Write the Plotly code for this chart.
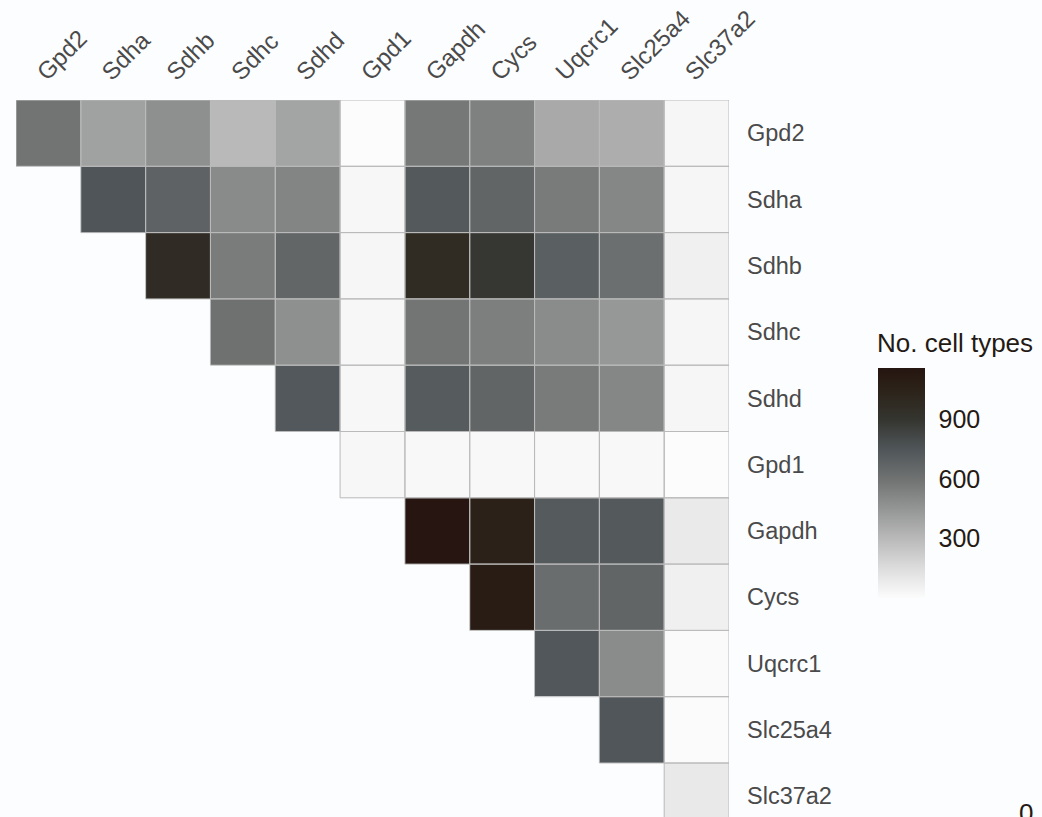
import plotly.graph_objects as go

# Genes, in the order used for both axes
genes = ["Gpd2", "Sdha", "Sdhb", "Sdhc", "Sdhd", "Gpd1",
         "Gapdh", "Cycs", "Uqcrc1", "Slc25a4", "Slc37a2"]

# Number of cell types in which each gene pair is co-detected (upper triangle only)
row_gpd2 = [592, 399, 475, 300, 386, 2, 575, 537, 369, 351, 29]
row_sdha = [750, 683, 496, 521, 24, 729, 667, 562, 512, 29]
row_sdhb = [970, 558, 662, 29, 975, 890, 699, 616, 58]
row_sdhc = [605, 475, 24, 587, 546, 492, 441, 29]
row_sdhd = [735, 24, 719, 667, 562, 512, 29]
row_gpd1 = [24, 19, 19, 19, 19, 0]
row_gapdh = [1160, 1060, 724, 729, 87]
row_cycs = [1100, 626, 667, 58]
row_uqcrc1 = [740, 492, 10]
row_slc25a4 = [745, 5]
row_slc37a2 = [92]

rows = [row_gpd2, row_sdha, row_sdhb, row_sdhc, row_sdhd, row_gpd1,
        row_gapdh, row_cycs, row_uqcrc1, row_slc25a4, row_slc37a2]

colorbar_ticks = [300, 600, 900]

n = len(genes)
z = []
for i, vals in enumerate(rows):
    z.append([None] * i + vals)

zmin, zmax = 0, 1160
colorscale = [
    [0.0, "#fbfcfb"],
    [0.129, "#dcdddc"],
    [0.259, "#b8b9b8"],
    [0.388, "#949595"],
    [0.517, "#707272"],
    [0.647, "#4f5558"],
    [0.776, "#34352f"],
    [0.9, "#2c231a"],
    [1.0, "#261510"],
]

BG = "#fcfdff"
DARK = "#241a14"
AXIS_TXT = "#4a4a4a"
TICK_CLR = "#d6d6d6"
FONT = "Liberation Sans, Arial, sans-serif"

W, H = 1042, 817
ML, MR, MT, MB = 16, 313, 100, 0
plot_w = W - ML - MR
plot_h = H - MT - MB
row_px = 66.3
rows_visible = plot_h / row_px

# colorbar geometry in pixels
cb_left, cb_top, cb_len, cb_thick = 878, 368, 230, 47


def px_x(px):
    return (px - ML) / plot_w


def px_y(px):
    return (H - MB - px) / plot_h


fig = go.Figure()

fig.add_trace(go.Heatmap(
    z=z,
    x=list(range(n)),
    y=list(range(n)),
    zmin=zmin, zmax=zmax,
    colorscale=colorscale,
    hoverongaps=False,
    colorbar=dict(
        x=px_x(cb_left), xanchor="left",
        y=px_y(cb_top), yanchor="top",
        len=cb_len, lenmode="pixels",
        thickness=cb_thick, thicknessmode="pixels",
        xpad=0, ypad=0,
        outlinewidth=0,
        tickvals=colorbar_ticks,
        ticks="outside", ticklen=9, tickwidth=1, tickcolor=BG,
        tickfont=dict(family=FONT, size=25, color=DARK),
    ),
))

# cell outlines for every filled cell
bx, by = [], []
for i in range(n):
    for j in range(n):
        if z[i][j] is None:
            continue
        x0, x1, y0, y1 = j - 0.5, j + 0.5, i - 0.5, i + 0.5
        bx += [x0, x1, x1, x0, x0, None]
        by += [y0, y0, y1, y1, y0, None]
fig.add_trace(go.Scatter(
    x=bx, y=by, mode="lines",
    line=dict(color="#bababa", width=1),
    hoverinfo="skip", showlegend=False,
))

# short tick marks drawn inside both edges of the colorbar
for v in colorbar_ticks:
    ypx = cb_top + cb_len * (1 - (v - zmin) / (zmax - zmin))
    for xa, xb in [(cb_left, cb_left + 10), (cb_left + cb_thick - 10, cb_left + cb_thick)]:
        fig.add_shape(type="line", xref="paper", yref="paper",
                      x0=px_x(xa), x1=px_x(xb), y0=px_y(ypx), y1=px_y(ypx),
                      line=dict(color=TICK_CLR, width=1))

fig.add_annotation(
    text="No. cell types", xref="paper", yref="paper",
    x=px_x(cb_left - 3), xanchor="left",
    y=px_y(343), yanchor="middle",
    showarrow=False, font=dict(family=FONT, size=26, color=DARK),
)
fig.add_annotation(
    text="0", xref="paper", yref="paper",
    x=px_x(1026), xanchor="center",
    y=px_y(796), yanchor="top",
    showarrow=False, font=dict(family=FONT, size=26, color=DARK),
)

fig.update_layout(
    width=W, height=H,
    margin=dict(l=ML, r=MR, t=MT, b=MB, autoexpand=False),
    paper_bgcolor=BG, plot_bgcolor=BG,
    showlegend=False,
    xaxis=dict(
        side="top", range=[-0.5, n - 0.5],
        tickmode="array", tickvals=list(range(n)), ticktext=genes,
        tickangle=-45, ticks="", ticklabelstandoff=9, ticklabelshift=-10,
        tickfont=dict(family=FONT, size=24, color=AXIS_TXT),
        showgrid=False, zeroline=False, showline=False, fixedrange=True,
    ),
    yaxis=dict(
        side="right", range=[-0.5 + rows_visible, -0.5],
        tickmode="array", tickvals=list(range(n)), ticktext=genes,
        ticks="", ticklabelstandoff=17,
        tickfont=dict(family=FONT, size=23.5, color=AXIS_TXT),
        showgrid=False, zeroline=False, showline=False, fixedrange=True,
    ),
)

fig.write_html("out.html")
